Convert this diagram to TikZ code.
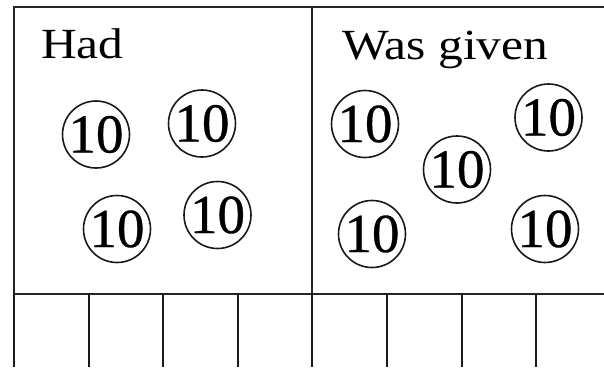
\documentclass[tikz,border=0pt]{standalone}
\usepackage{fontspec}
\setmainfont{Liberation Serif}
\newfontfamily\headfont[FakeStretch=1.15]{Liberation Serif}
\newfontfamily\coinfont[FakeBold=0.6]{Liberation Serif}
\begin{document}
\begin{tikzpicture}[
  x=1pt,y=-1pt,
  frame/.style={draw=black!85,line width=1.5pt},
  cellline/.style={draw=black!90,line width=2.5pt},
  heading/.style={anchor=base west,inner sep=0pt,font=\fontsize{43}{43}\headfont},
  coin/.style={circle,draw=black!90,line width=1.6pt,minimum size=67pt,inner sep=0pt,font=\fontsize{55}{55}\coinfont}
]
  \useasboundingbox (0,0) rectangle (604,367);
  % frame and divider
  \draw[frame] (604,7) -- (14,7) -- (14,294) -- (604,294);
  \draw[frame] (312,7) -- (312,294);
  % cells below
  \foreach \x in {14,89,163,238,312,387,462,536}
    \draw[cellline] (\x,294) -- (\x,367);

  \node[heading] (had) at (41,58.5) {Had};
  \node[heading] (given) at (342,59) {Was given};

  % had
  \node[coin] (hadA) at (96,134.5) {10};
  \node[coin] (hadB) at (202,123.5) {10};
  \node[coin] (hadC) at (117,229) {10};
  \node[coin] (hadD) at (217.5,215) {10};
  % was given
  \node[coin] (givenA) at (365,124) {10};
  \node[coin] (givenB) at (457,169.5) {10};
  \node[coin] (givenC) at (548.5,117.5) {10};
  \node[coin] (givenD) at (372,234) {10};
  \node[coin] (givenE) at (545,229) {10};
\end{tikzpicture}
\end{document}
